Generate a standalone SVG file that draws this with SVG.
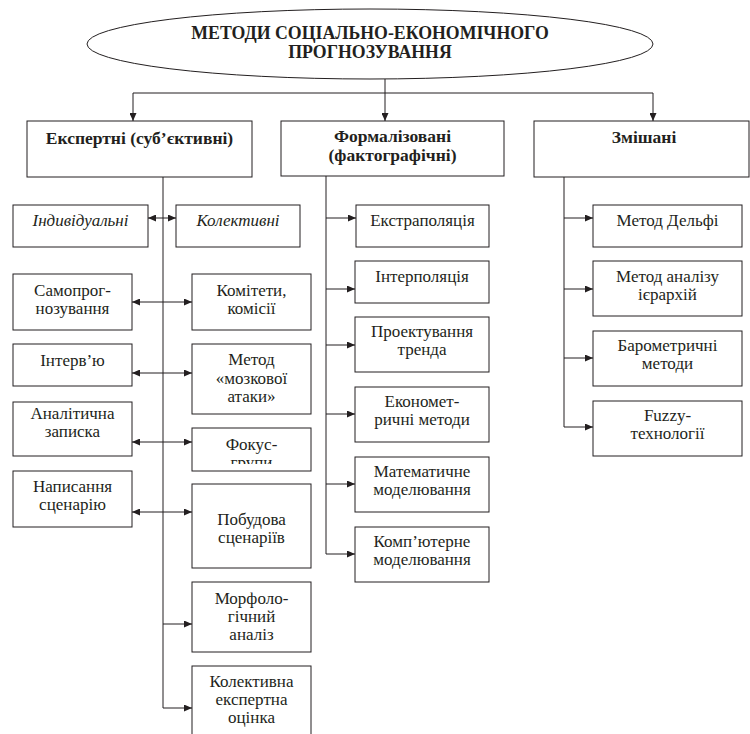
<svg xmlns="http://www.w3.org/2000/svg" width="750" height="734" viewBox="0 0 750 734">
<defs>
<marker id="ah" markerUnits="userSpaceOnUse" markerWidth="8" markerHeight="7" refX="8" refY="3.5" orient="auto-start-reverse">
<path d="M0,0 L8,3.5 L0,7 z" fill="#231f20"/>
</marker>
<clipPath id="fclip"><rect x="192" y="428" width="119" height="36"/></clipPath>
</defs>
<style>
text{font-family:'Liberation Serif','Times New Roman',serif;font-size:17px;fill:#231f20;text-anchor:middle}
.t{font-size:17.8px}
.h{font-size:17.5px}
.b{font-weight:bold}
.i{font-style:italic}
.box{fill:#fff;stroke:#231f20;stroke-width:1}
.ln{fill:none;stroke:#231f20;stroke-width:1}
.arr{fill:none;stroke:#231f20;stroke-width:1;marker-end:url(#ah)}
.dbl{fill:none;stroke:#231f20;stroke-width:1;marker-end:url(#ah);marker-start:url(#ah)}
</style>
<rect width="750" height="734" fill="#fff"/>
<g id="connectors">
<line class="ln" x1="385" y1="79" x2="385" y2="93"/>
<line class="ln" x1="133" y1="93" x2="653" y2="93"/>
<line class="arr" x1="133" y1="93" x2="133" y2="121"/>
<line class="arr" x1="385" y1="93" x2="385" y2="121"/>
<line class="arr" x1="653" y1="93" x2="653" y2="121"/>
<line class="ln" x1="163" y1="177" x2="163" y2="708"/>
<line class="ln" x1="326" y1="176" x2="326" y2="554"/>
<line class="ln" x1="564" y1="177" x2="564" y2="427"/>
<line class="dbl" x1="148" y1="218" x2="176" y2="218"/>
<line class="dbl" x1="132" y1="302" x2="192" y2="302"/>
<line class="dbl" x1="132" y1="373" x2="192" y2="373"/>
<line class="dbl" x1="132" y1="442" x2="192" y2="442"/>
<line class="dbl" x1="132" y1="512" x2="192" y2="512"/>
<line class="arr" x1="163" y1="624" x2="192" y2="624"/>
<line class="arr" x1="163" y1="708" x2="192" y2="708"/>
<line class="arr" x1="326" y1="218" x2="356" y2="218"/>
<line class="arr" x1="326" y1="289" x2="355" y2="289"/>
<line class="arr" x1="326" y1="345" x2="355" y2="345"/>
<line class="arr" x1="326" y1="414" x2="355" y2="414"/>
<line class="arr" x1="326" y1="484" x2="355" y2="484"/>
<line class="arr" x1="326" y1="554" x2="355" y2="554"/>
<line class="arr" x1="564" y1="218" x2="593" y2="218"/>
<line class="arr" x1="564" y1="289" x2="593" y2="289"/>
<line class="arr" x1="564" y1="358" x2="593" y2="358"/>
<line class="arr" x1="564" y1="427" x2="593" y2="427"/>
</g>
<g id="root">
<ellipse class="box" cx="370" cy="44" rx="283" ry="35"/>
<text class="b t" x="370" y="39">МЕТОДИ СОЦІАЛЬНО-ЕКОНОМІЧНОГО</text>
<text class="b t" x="370" y="58">ПРОГНОЗУВАННЯ</text>
</g>
<g id="expert">
<rect class="box" x="27" y="121" width="225" height="56"/>
<text class="b h" x="139.5" y="144">Експертні (суб’єктивні)</text>
</g>
<g id="formal">
<rect class="box" x="281" y="121" width="223" height="55"/>
<text class="b h" x="392.5" y="142">Формалізовані</text>
<text class="b h" x="392.5" y="161">(фактографічні)</text>
</g>
<g id="mixed">
<rect class="box" x="534" y="121" width="215" height="56"/>
<text class="b h" x="644" y="143">Змішані</text>
</g>
<g id="individual">
<rect class="box" x="13" y="205" width="135" height="42"/>
<text class="i" x="80.5" y="226">Індивідуальні</text>
</g>
<g id="collective">
<rect class="box" x="176" y="205" width="124" height="42"/>
<text class="i" x="238" y="226">Колективні</text>
</g>
<g id="selfforecast">
<rect class="box" x="13" y="274" width="119" height="56"/>
<text x="72.5" y="296">Самопрог-</text>
<text x="72.5" y="314">нозування</text>
</g>
<g id="committees">
<rect class="box" x="192" y="274" width="119" height="56"/>
<text x="251.5" y="296">Комітети,</text>
<text x="251.5" y="314">комісії</text>
</g>
<g id="interview">
<rect class="box" x="13" y="344" width="119" height="42"/>
<text x="72.5" y="366">Інтерв’ю</text>
</g>
<g id="brainstorm">
<rect class="box" x="192" y="344" width="119" height="70"/>
<text x="251.5" y="365">Метод</text>
<text x="251.5" y="383.5">«мозкової</text>
<text x="251.5" y="402">атаки»</text>
</g>
<g id="memo">
<rect class="box" x="13" y="402" width="119" height="54"/>
<text x="72.5" y="419">Аналітична</text>
<text x="72.5" y="437">записка</text>
</g>
<g id="focus">
<rect class="box" x="192" y="428" width="119" height="43"/>
<text x="251.5" y="450">Фокус-</text>
<text x="251.5" y="468" clip-path="url(#fclip)">групи</text>
</g>
<g id="scenario">
<rect class="box" x="13" y="471" width="119" height="56"/>
<text x="72.5" y="492">Написання</text>
<text x="72.5" y="510">сценарію</text>
</g>
<g id="scenarios">
<rect class="box" x="192" y="484" width="119" height="84"/>
<text x="251.5" y="525">Побудова</text>
<text x="251.5" y="543">сценаріїв</text>
</g>
<g id="morph">
<rect class="box" x="192" y="582" width="119" height="70"/>
<text x="251.5" y="604">Морфоло-</text>
<text x="251.5" y="622">гічний</text>
<text x="251.5" y="640">аналіз</text>
</g>
<g id="collective-eval">
<rect class="box" x="192" y="666" width="119" height="80"/>
<text x="251.5" y="687">Колективна</text>
<text x="251.5" y="705">експертна</text>
<text x="251.5" y="723">оцінка</text>
</g>
<g id="extrapolation">
<rect class="box" x="356" y="205" width="133" height="42"/>
<text x="422.5" y="226">Екстраполяція</text>
</g>
<g id="interpolation">
<rect class="box" x="355" y="261" width="134" height="42"/>
<text x="422" y="282">Інтерполяція</text>
</g>
<g id="trend">
<rect class="box" x="355" y="317" width="134" height="55"/>
<text x="422" y="337">Проектування</text>
<text x="422" y="355">тренда</text>
</g>
<g id="econometric">
<rect class="box" x="355" y="387" width="134" height="55"/>
<text x="422" y="407">Економет-</text>
<text x="422" y="425">ричні методи</text>
</g>
<g id="math">
<rect class="box" x="355" y="457" width="134" height="55"/>
<text x="422" y="477">Математичне</text>
<text x="422" y="495">моделювання</text>
</g>
<g id="computer">
<rect class="box" x="355" y="527" width="134" height="55"/>
<text x="422" y="547">Комп’ютерне</text>
<text x="422" y="565">моделювання</text>
</g>
<g id="delphi">
<rect class="box" x="593" y="205" width="149" height="42"/>
<text x="667.5" y="226">Метод Дельфі</text>
</g>
<g id="ahp">
<rect class="box" x="593" y="261" width="149" height="55"/>
<text x="667.5" y="282">Метод аналізу</text>
<text x="667.5" y="300">ієрархій</text>
</g>
<g id="barometric">
<rect class="box" x="593" y="331" width="149" height="55"/>
<text x="667.5" y="351">Барометричні</text>
<text x="667.5" y="369">методи</text>
</g>
<g id="fuzzy">
<rect class="box" x="593" y="401" width="149" height="55"/>
<text x="667.5" y="421">Fuzzy-</text>
<text x="667.5" y="439">технології</text>
</g>
</svg>
